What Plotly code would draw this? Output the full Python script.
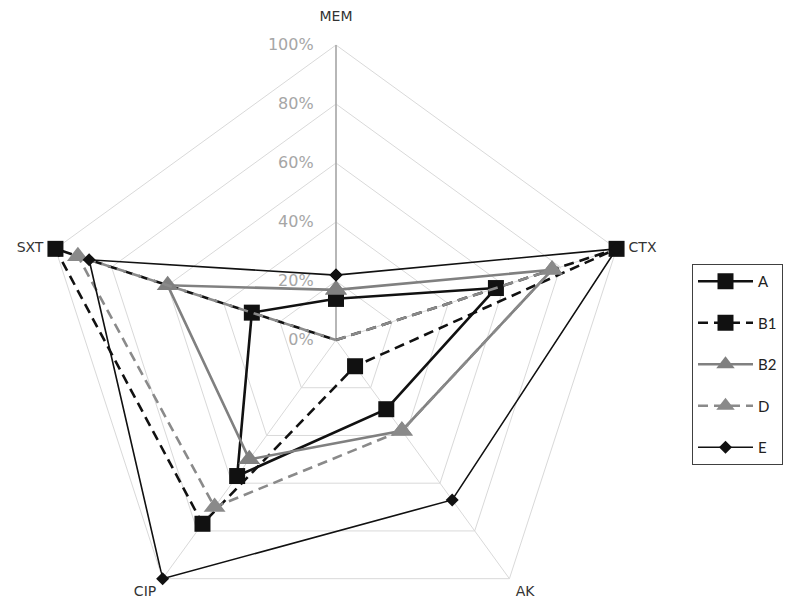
import plotly.graph_objects as go

categories = ["MEM", "CTX", "AK", "CIP", "SXT"]
category_labels = ["MEM<br>\u00a0", "\u00a0\u00a0CTX", "\u00a0AK", "CIP\u00a0", "SXT\u00a0\u00a0"]
series_names = ["A", "B1", "B2", "D", "E"]
A = [14, 57, 29, 57, 30]
B1 = [0, 100, 11, 77, 100]
B2 = [17, 77, 38, 50, 60]
D = [0, 77, 38, 70, 92]
E = [22, 100, 67, 100, 88]
radial_ticks = [0, 20, 40, 60, 80, 100]
radial_labels = ["0%", "20%", "40%", "60%", "80%", "100%"]

values = {"A": A, "B1": B1, "B2": B2, "D": D, "E": E}
styles = {
    "A": dict(color="#111111", dash="solid", width=2.6, symbol="square", size=16),
    "B1": dict(color="#111111", dash="10px,6px", width=2.6, symbol="square", size=16),
    "B2": dict(color="#808080", dash="solid", width=2.6, symbol="triangle-up", size=19),
    "D": dict(color="#8a8a8a", dash="10px,6px", width=2.6, symbol="triangle-up", size=19),
    "E": dict(color="#111111", dash="solid", width=1.6, symbol="diamond", size=10),
}

fig = go.Figure()
for name in series_names:
    s = styles[name]
    r = values[name] + values[name][:1]
    th = categories + categories[:1]
    fig.add_trace(go.Scatterpolar(
        r=r, theta=th, name=name, mode="lines+markers", legendgroup=name,
        line=dict(color=s["color"], dash=s["dash"], width=s["width"]),
        marker=dict(symbol=s["symbol"], size=s["size"], color=s["color"]),
    ))

# page body adds an 8px offset; positions below are in figure pixels
W, H = 792, 640
cx, cy, R = 328, 332, 295
fig.update_layout(
    width=W, height=H,
    margin=dict(l=0, r=0, t=0, b=0, autoexpand=False),
    paper_bgcolor="white", plot_bgcolor="white",
    font=dict(family="DejaVu Sans, sans-serif", size=14, color="#404040"),
    polar=dict(
        domain=dict(x=[(cx - R) / W, (cx + R) / W], y=[1 - (cy + R) / H, 1 - (cy - R) / H]),
        gridshape="linear",
        bgcolor="white",
        angularaxis=dict(
            rotation=90, direction="clockwise", categoryorder="array", categoryarray=categories,
            tickvals=categories, ticktext=category_labels,
            showline=True, linecolor="#d9d9d9", linewidth=1,
            gridcolor="#d9d9d9", gridwidth=1,
            ticks="", layer="below traces",
            tickfont=dict(family="DejaVu Sans, sans-serif", size=14, color="#333333"),
        ),
        radialaxis=dict(
            range=[0, 100], tickvals=radial_ticks, ticktext=radial_labels,
            angle=90, tickangle=90, side="counterclockwise",
            showline=True, linecolor="#a6a6a6", linewidth=1.5,
            gridcolor="#d9d9d9", gridwidth=1,
            ticks="outside", ticklen=16, tickcolor="rgba(0,0,0,0)",
            tickfont=dict(family="DejaVu Sans, sans-serif", size=16, color="#a6a6a6"),
            layer="below traces",
        ),
    ),
    showlegend=True,
    legend=dict(
        x=684 / W, y=1 - 256 / H, xanchor="left", yanchor="top",
        bordercolor="#404040", borderwidth=1, bgcolor="white", itemwidth=55,
        font=dict(family="Lato, sans-serif", size=15, color="#222222"), tracegroupgap=19,
    ),
)

fig.write_html("out.html")
